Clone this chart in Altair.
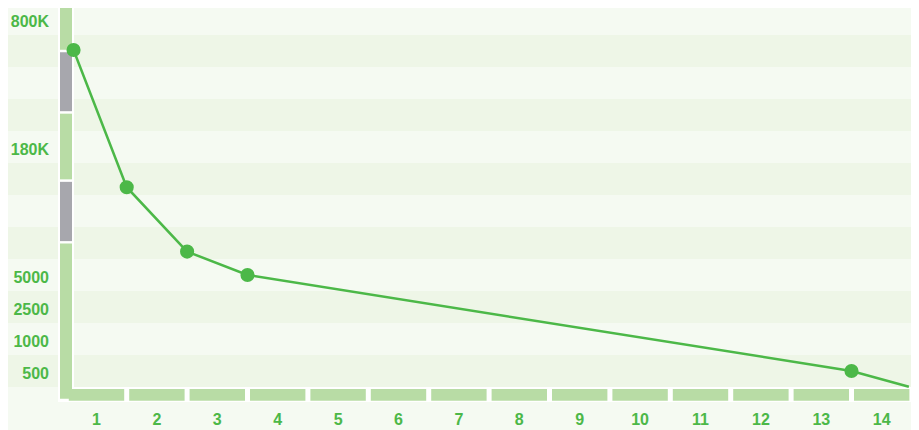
import altair as alt
import pandas as pd

# ---------------- data ----------------
positions = [0.12, 1, 2, 3, 13, 13.95]
values = [650000, 125000, 37000, 5000, 500, 10]
has_marker = [True, True, True, True, True, False]

x_labels = [str(i) for i in range(1, 15)]
y_tick_values = [500, 1000, 2500, 5000, 180000, 800000]
y_tick_labels = ["500", "1000", "2500", "5000", "180K", "800K"]

# broken (piecewise) value axis: value -> row (one row = one stripe)
scale_breaks = [0, 500, 1000, 2500, 5000, 180000, 800000]
scale_rows = [0, 0.5, 1.5, 2.5, 3.5, 7.5, 11.5]

band_starts = [0, 2, 4, 6, 8, 10]

seg_top = [11.9, 10.5, 8.58, 6.45, 4.52]
seg_bottom = [10.5, 8.58, 6.45, 4.52, -0.41]
seg_kind = ["green", "gray", "green", "gray", "green"]

# ---------------- style ----------------
BG = "#f5faf2"
BAND = "#eef6e7"
GREEN = "#4cb848"
BAR_GREEN = "#b8dca5"
BAR_GRAY = "#a7a7ad"
FONT = "Liberation Sans"

W, H = 903, 422
ROW_PX = 32
BASE = 379  # pixel of row 0

row_scale = alt.Scale(domain=[0, 12], range=[BASE, BASE - 12 * ROW_PX], nice=False, zero=False)
val_scale = alt.Scale(domain=scale_breaks, range=[BASE - ROW_PX * r for r in scale_rows],
                      nice=False, zero=False)
x_scale = alt.Scale(domain=[0, 14], range=[58.3, 903.9], nice=False, zero=False)

bands_df = pd.DataFrame({"r0": band_starts, "r1": [b + 1 for b in band_starts]})
boxes_df = pd.DataFrame({
    "b0": [k - 1 for k in range(1, 15)],
    "b1": list(range(1, 15)),
    "mid": [k - 0.5 for k in range(1, 15)],
    "label": x_labels,
})
seg_df = pd.DataFrame({"top": seg_top, "bottom": seg_bottom, "kind": seg_kind})
line_df = pd.DataFrame({"pos": positions, "value": values, "marker": has_marker})
ytick_df = pd.DataFrame({"value": y_tick_values, "label": y_tick_labels})
one = pd.DataFrame({"a": [0]})

bands = alt.Chart(bands_df).mark_rect(color=BAND).encode(
    x=alt.value(0), x2=alt.value(W),
    y=alt.Y("r0:Q", scale=row_scale, axis=None), y2="r1:Q",
)

frame_v = alt.Chart(one).mark_rect(color="white").encode(
    x=alt.value(50), x2=alt.value(66), y=alt.value(-5), y2=alt.value(394)
)
frame_h = alt.Chart(one).mark_rect(color="white").encode(
    x=alt.value(50), x2=alt.value(W), y=alt.value(379), y2=alt.value(394)
)

boxes = alt.Chart(boxes_df).mark_rect(color=BAR_GREEN, xOffset=2.5, x2Offset=-2.5).encode(
    x=alt.X("b0:Q", scale=x_scale, axis=None), x2="b1:Q",
    y=alt.value(381), y2=alt.value(392.7),
)

segs = alt.Chart(seg_df).mark_rect(yOffset=1.25, y2Offset=-1.25).encode(
    x=alt.value(52), x2=alt.value(64),
    y=alt.Y("top:Q", scale=row_scale, axis=None), y2="bottom:Q",
    color=alt.Color("kind:N", scale=alt.Scale(domain=["green", "gray"], range=[BAR_GREEN, BAR_GRAY]),
                    legend=None),
)

line = alt.Chart(line_df).mark_line(color=GREEN, strokeWidth=2.5).encode(
    x=alt.X("pos:Q", scale=x_scale, axis=None),
    y=alt.Y("value:Q", scale=val_scale, axis=None),
)

points = alt.Chart(line_df).transform_filter("datum.marker").mark_circle(
    color=GREEN, size=200, opacity=1
).encode(
    x=alt.X("pos:Q", scale=x_scale, axis=None),
    y=alt.Y("value:Q", scale=val_scale, axis=None),
)

ylabels = alt.Chart(ytick_df).mark_text(
    align="right", baseline="middle", dy=3, font=FONT, fontSize=16, fontWeight="bold", color=GREEN
).encode(
    x=alt.value(41),
    y=alt.Y("value:Q", scale=val_scale, axis=None),
    text="label:N",
)

xlabels = alt.Chart(boxes_df).mark_text(
    align="center", baseline="middle", font=FONT, fontSize=16, fontWeight="bold", color=GREEN
).encode(
    x=alt.X("mid:Q", scale=x_scale, axis=None),
    y=alt.value(412),
    text="label:N",
)

chart = alt.layer(
    bands, frame_v, frame_h, boxes, segs, line, points, ylabels, xlabels
).resolve_scale(y="independent").properties(
    width=W, height=H, background=BG, padding=0,
    autosize=alt.AutoSizeParams(type="none"),
).configure_view(strokeWidth=0)

chart.save("out.html", embed_options={"renderer": "svg", "actions": False})
